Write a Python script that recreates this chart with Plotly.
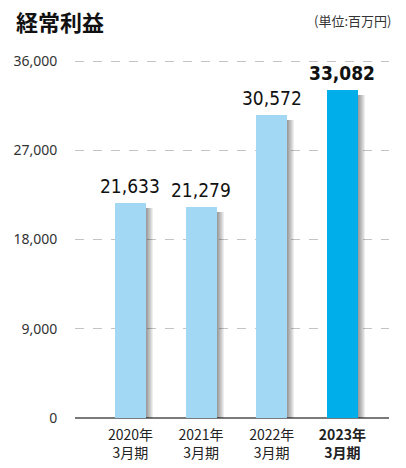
import plotly.graph_objects as go

categories = ["2020年<br>3月期", "2021年<br>3月期", "2022年<br>3月期", "<b>2023年<br>3月期</b>"]
values = [21633, 21279, 30572, 33082]
value_labels = ["21,633", "21,279", "30,572", "<b>33,082</b>"]
bar_colors = ["#a3d8f5", "#a3d8f5", "#a3d8f5", "#00aeea"]
y_ticks = [0, 9000, 18000, 27000, 36000]
y_ticktext = ["0", "9,000", "18,000", "27,000", "36,000"]

x = list(range(len(values)))
XR = [-0.785, 3.66]
W, H = 406, 468
L, R, B = 75, 17, 50
px_y = 36000 / (H - 61 - B)
YMAX = 36000 + 2 * px_y
T = 59
px_x = (XR[1] - XR[0]) / (W - L - R)
bw = 0.44

fig = go.Figure()

# soft shadow on right side of bars
for k in range(1, 8):
    fig.add_trace(go.Bar(
        x=x, y=[v - 5 * px_y for v in values],
        width=bw, offset=-bw / 2 + k * px_x,
        marker=dict(color="rgba(0,0,0,0.065)", line=dict(width=0)),
        hoverinfo="skip", showlegend=False,
    ))

fig.add_trace(go.Bar(
    x=x, y=values, width=bw, offset=-bw / 2,
    marker=dict(color=bar_colors, line=dict(width=0)),
    showlegend=False,
))

for i, (v, t) in enumerate(zip(values, value_labels)):
    fig.add_annotation(x=i, y=v, text=t, showarrow=False, yanchor="bottom",
                       yshift=4,
                       font=dict(family="DejaVu Sans Condensed, Liberation Sans Narrow, Noto Sans",
                                 size=19, color="#111"))

fig.add_annotation(xref="paper", yref="paper", x=(14 - L) / (W - L - R), y=1,
                   yshift=T - 3, xanchor="left", yanchor="top", showarrow=False,
                   text="<b>経常利益</b>",
                   font=dict(family="Noto Sans CJK JP", size=22, color="#111"))
fig.add_annotation(xref="paper", yref="paper", x=1, xshift=R - 13, y=1, yshift=T - 9,
                   xanchor="right", yanchor="top", showarrow=False,
                   text="(単位:百万円)",
                   font=dict(family="Noto Sans CJK JP", size=13, color="#333"))

fig.update_layout(
    width=W, height=H, margin=dict(l=L, r=R, t=T, b=B, autoexpand=False),
    paper_bgcolor="white", plot_bgcolor="white",
    barmode="overlay", bargap=0,
    xaxis=dict(range=XR, tickvals=x, ticktext=categories, showgrid=False,
               zeroline=False, showline=False, ticks="outside", ticklen=4,
               tickcolor="rgba(0,0,0,0)", automargin=False,
               tickfont=dict(family="Noto Sans CJK JP", size=14, color="#222")),
    yaxis=dict(range=[0, YMAX], tickvals=y_ticks, ticktext=y_ticktext,
               showgrid=True, gridcolor="#c4c4c4", griddash="dash", gridwidth=1,
               zeroline=True, zerolinecolor="#7a7a7a", zerolinewidth=2,
               showline=False, ticks="outside", ticklen=14, tickcolor="rgba(0,0,0,0)",
               automargin=False,
               tickfont=dict(family="Noto Sans", size=14, color="#333")),
)

fig.write_html("out.html", config={"displayModeBar": False},
               post_script="document.body.style.margin='0';document.body.style.overflow='hidden';")
